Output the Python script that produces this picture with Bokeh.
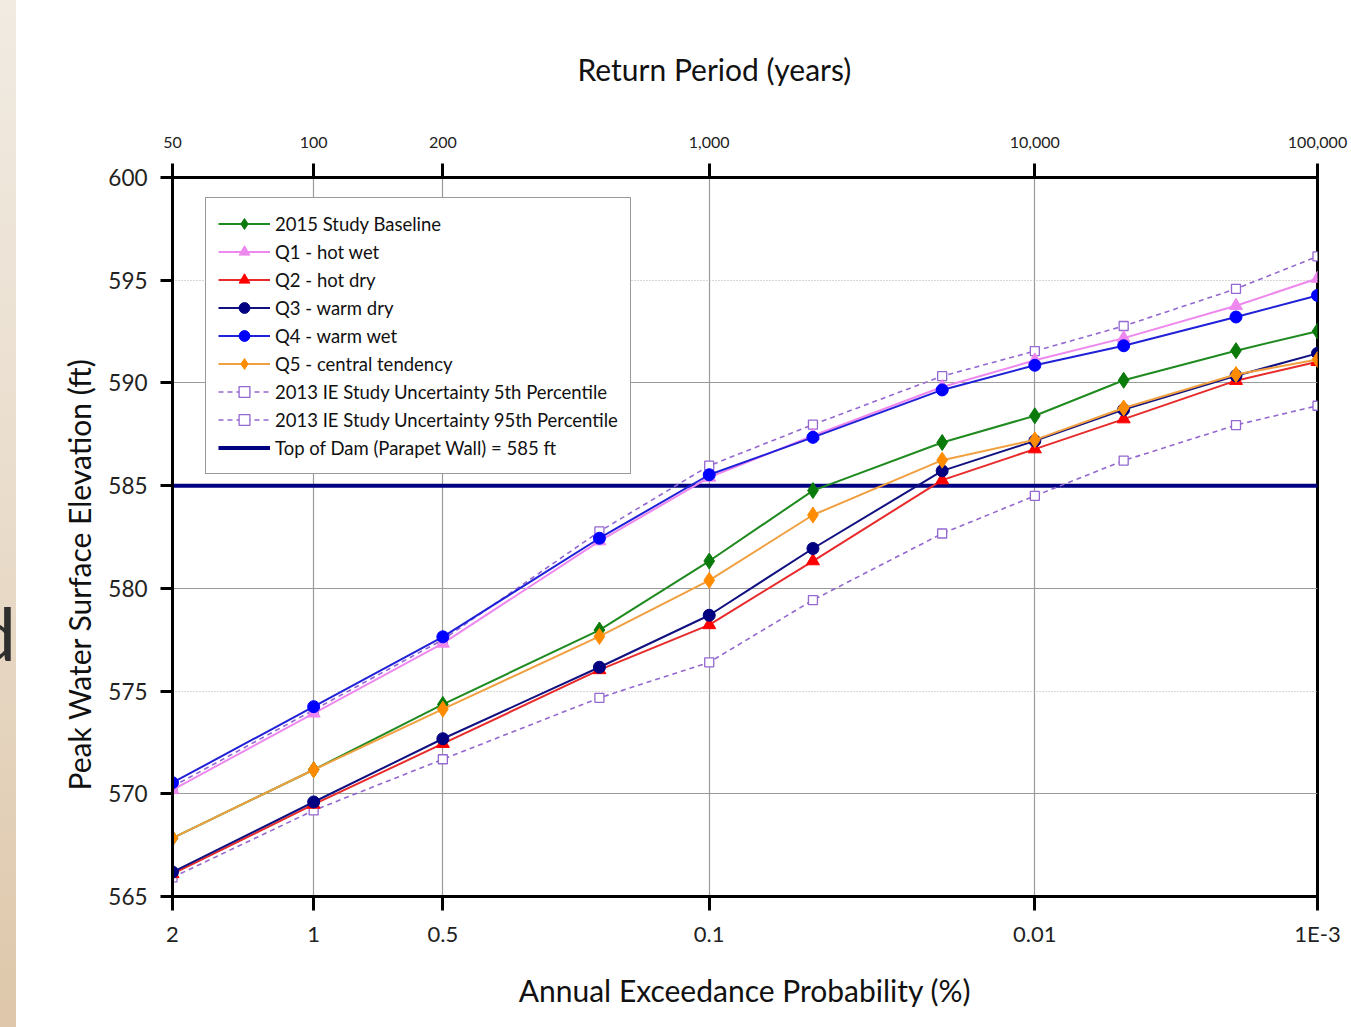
from statistics import NormalDist
from bokeh.plotting import figure
from bokeh.models import (Range1d, LinearAxis, FixedTicker, Grid, Legend,
                          LegendItem, Title, Div)
from bokeh.layouts import row
from bokeh.embed import file_html
from bokeh.resources import INLINE

# ---------------- data ----------------
aep_pct = [2, 1, 0.5, 0.2, 0.1, 0.05, 0.02, 0.01, 0.005, 0.002, 0.001]
baseline = [567.84, 571.17, 574.35, 577.97, 581.33, 584.76, 587.10, 588.40, 590.13, 591.57, 592.52]
q1_hot_wet = [570.19, 573.92, 577.32, 582.30, 585.40, 587.43, 589.80, 591.10, 592.18, 593.76, 595.08]
q2_hot_dry = [566.10, 569.48, 572.44, 576.03, 578.22, 581.33, 585.27, 586.78, 588.24, 590.11, 591.03]
q3_warm_dry = [566.19, 569.60, 572.68, 576.16, 578.69, 581.94, 585.72, 587.18, 588.70, 590.35, 591.44]
q4_warm_wet = [570.54, 574.24, 577.64, 582.44, 585.53, 587.35, 589.66, 590.86, 591.81, 593.21, 594.26]
q5_central = [567.84, 571.17, 574.12, 577.66, 580.39, 583.57, 586.24, 587.23, 588.78, 590.41, 591.14]
ie_5th = [565.93, 569.19, 571.68, 574.67, 576.40, 579.43, 582.67, 584.50, 586.22, 587.95, 588.89]
ie_95th = [570.35, 574.08, 577.50, 582.77, 585.97, 587.97, 590.33, 591.55, 592.77, 594.58, 596.16]
top_of_dam = 585

bottom_tick_aep = [2, 1, 0.5, 0.1, 0.01, 0.001]
bottom_tick_labels = ["2", "1", "0.5", "0.1", "0.01", "1E-3"]
top_tick_labels = ["50", "100", "200", "1,000", "10,000", "100,000"]
y_ticks = [565, 570, 575, 580, 585, 590, 595, 600]
y_solid_grid = [570, 580, 590]
y_dotted_grid = [575, 585, 595]

# normal-probability transform of the AEP axis
nd = NormalDist()
def zpos(pct):
    return nd.inv_cdf(1 - pct / 100.0)

x = [zpos(a) for a in aep_pct]
xt = [zpos(a) for a in bottom_tick_aep]

FONT = "Lato"

p = figure(width=1335, height=1027,
           x_range=Range1d(x[0], x[-1]), y_range=Range1d(565, 600),
           output_backend="svg", toolbar_location=None,
           min_border_left=156, min_border_right=34,
           min_border_top=177, min_border_bottom=131,
           background_fill_color="white", border_fill_color="white")
p.outline_line_color = "black"
p.outline_line_width = 3

def style_axis(ax):
    ax.axis_line_color = "black"
    ax.axis_line_width = 3
    ax.major_tick_line_color = "black"
    ax.major_tick_line_width = 3
    ax.minor_tick_line_color = None
    ax.major_label_text_font = FONT
    ax.major_label_text_color = "#222222"

# bottom axis
xa = p.xaxis[0]
style_axis(xa)
xa.ticker = FixedTicker(ticks=xt)
xa.major_label_overrides = {t: l for t, l in zip(xt, bottom_tick_labels)}
xa.major_tick_out = 14
xa.major_tick_in = 0
xa.major_label_standoff = 9
xa.major_label_text_font_size = "22px"
xa.axis_label = "Annual Exceedance Probability (%)"
xa.axis_label_text_font = FONT
xa.axis_label_text_font_style = "normal"
xa.axis_label_text_font_size = "30px"
xa.axis_label_text_color = "#111111"
xa.axis_label_standoff = 22

# left axis
ya = p.yaxis[0]
style_axis(ya)
ya.ticker = FixedTicker(ticks=y_ticks)
ya.major_tick_out = 12
ya.major_tick_in = 0
ya.major_label_standoff = 13
ya.major_label_text_font_size = "22.5px"

# top axis
ta = LinearAxis(ticker=FixedTicker(ticks=xt),
                major_label_overrides={t: l for t, l in zip(xt, top_tick_labels)})
style_axis(ta)
ta.major_tick_out = 14
ta.major_tick_in = 0
ta.major_label_standoff = 16
ta.major_label_text_font_size = "16px"
p.add_layout(ta, "above")

# titles
p.add_layout(Title(text="Return Period (years)", align="left", offset=405,
                   text_font=FONT, text_font_size="30px", text_font_style="normal",
                   text_color="#111111", standoff=93), "above")
p.add_layout(Title(text="Peak Water Surface Elevation (ft)", align="left", offset=106,
                   text_font=FONT, text_font_size="30px", text_font_style="normal",
                   text_color="#111111", standoff=17), "left")

# grids
p.xgrid.ticker = FixedTicker(ticks=xt)
p.xgrid.grid_line_color = "#9a9a9a"
p.xgrid.grid_line_width = 1.2
p.ygrid.ticker = FixedTicker(ticks=y_solid_grid)
p.ygrid.grid_line_color = "#9a9a9a"
p.ygrid.grid_line_width = 1.2
p.add_layout(Grid(dimension=1, ticker=FixedTicker(ticks=y_dotted_grid),
                  grid_line_color="#b0b0b0", grid_line_dash="1 2",
                  grid_line_width=1))

# dam line (underneath)
dam_r = p.line([x[0], x[-1]], [top_of_dam, top_of_dam], line_color="#000080", line_width=4)

purple = "#9368d0"
def dashed(vals):
    l = p.line(x, vals, line_color=purple, line_width=1.6, line_dash="5 4")
    s = p.scatter(x, vals, marker="square", size=9, fill_color="white",
                  line_color=purple, line_width=1.3)
    return [l, s]

r_5 = dashed(ie_5th)
r_95 = dashed(ie_95th)

def series(vals, lcol, mcol, marker, size):
    l = p.line(x, vals, line_color=lcol, line_width=2)
    s = p.scatter(x, vals, marker=marker, size=size, fill_color=mcol,
                  line_color=mcol, line_width=1)
    return [l, s]

r_base = series(baseline, "#1f8a1f", "#0a7a0a", "diamond", 16)
r_q1 = series(q1_hot_wet, "#ee88ee", "#ee88ee", "triangle", 13)
r_q2 = series(q2_hot_dry, "#e82a2a", "#ff0000", "triangle", 13)
r_q3 = series(q3_warm_dry, "#101080", "#000080", "circle", 12)
r_q4 = series(q4_warm_wet, "#2020d8", "#0000ff", "circle", 12)
r_q5 = series(q5_central, "#f0a040", "#ff8c00", "diamond", 16)

legend = Legend(items=[
    LegendItem(label="2015 Study Baseline", renderers=r_base),
    LegendItem(label="Q1 - hot wet", renderers=r_q1),
    LegendItem(label="Q2 - hot dry", renderers=r_q2),
    LegendItem(label="Q3 - warm dry", renderers=r_q3),
    LegendItem(label="Q4 - warm wet", renderers=r_q4),
    LegendItem(label="Q5 - central tendency", renderers=r_q5),
    LegendItem(label="2013 IE Study Uncertainty 5th Percentile", renderers=r_5),
    LegendItem(label="2013 IE Study Uncertainty 95th Percentile", renderers=r_95),
    LegendItem(label="Top of Dam (Parapet Wall) = 585 ft", renderers=[dam_r]),
], location=(33, 422))
legend.label_text_font = FONT
legend.label_text_font_size = "18.5px"
legend.label_text_color = "#111111"
legend.glyph_width = 52
legend.glyph_height = 27
legend.label_height = 27
legend.spacing = 1
legend.padding = 12
legend.label_standoff = 5
legend.border_line_color = "#333333"
legend.border_line_width = 1.5
legend.background_fill_color = "white"
legend.background_fill_alpha = 1.0
p.add_layout(legend)

strip = Div(width=16, height=1027, text=(
    '<div style="position:relative;width:16px;height:1027px;overflow:hidden;'
    'background:linear-gradient(180deg,#f1ebe2 0%,#e9dccb 50%,#dec7aa 100%);">'
    '<span style="position:absolute;right:0px;top:596px;font-family:Lato;'
    'font-size:74px;line-height:74px;color:#2e2e2e;">d</span></div>'),
    styles={"margin": "0", "padding": "0"})

layout = row(strip, p, spacing=0)
open("out.html", "w").write(file_html(layout, INLINE))
